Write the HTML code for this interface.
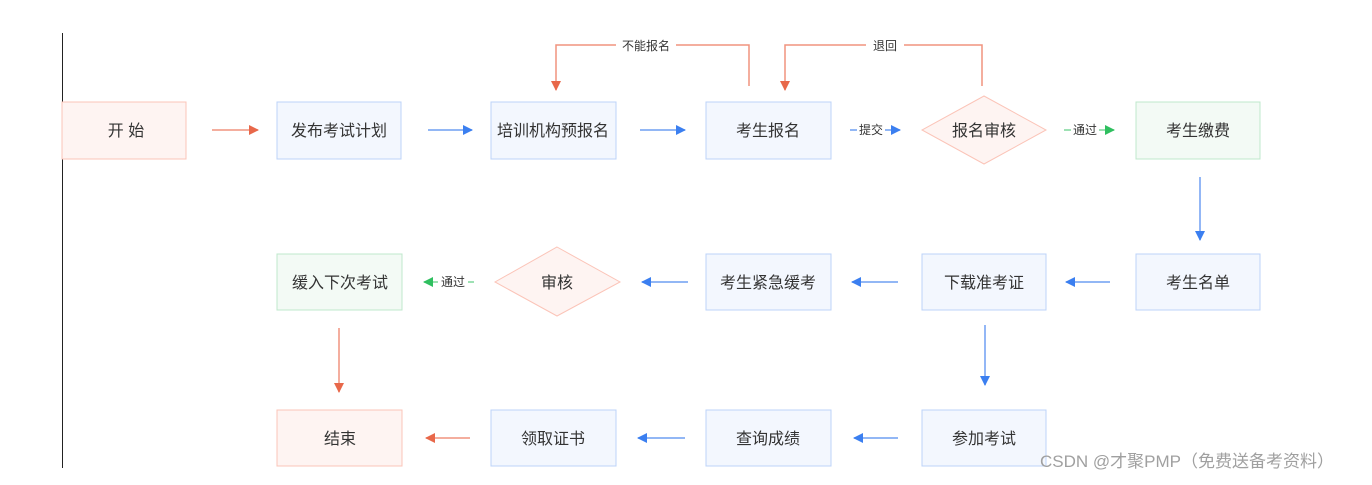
<!DOCTYPE html>
<html><head><meta charset="utf-8"><style>
body{margin:0;background:#fff;}
svg text{font-family:"Liberation Sans","Noto Sans CJK SC",sans-serif;fill:#333;}
</style></head><body>
<svg width="1372" height="480" viewBox="0 0 1372 480" xmlns="http://www.w3.org/2000/svg">
<defs>
<marker id="r" markerWidth="10" markerHeight="10" refX="9" refY="5" orient="auto" markerUnits="userSpaceOnUse"><path d="M0,0 L10,5 L0,10z" fill="#e8684a"/></marker>
<marker id="b" markerWidth="10" markerHeight="10" refX="9" refY="5" orient="auto" markerUnits="userSpaceOnUse"><path d="M0,0 L10,5 L0,10z" fill="#3b7ff0"/></marker>
<marker id="g" markerWidth="10" markerHeight="10" refX="9" refY="5" orient="auto" markerUnits="userSpaceOnUse"><path d="M0,0 L10,5 L0,10z" fill="#2fbf5f"/></marker>
</defs>
<line x1="62.5" y1="33" x2="62.5" y2="468" stroke="#222" stroke-width="1"/>
<g font-size="16" text-anchor="middle">
<!-- row 1 -->
<rect x="62" y="102" width="124" height="57" fill="#fef4f2" stroke="#fbc4b8"/><text x="126" y="136">开 始</text>
<rect x="277" y="102" width="124" height="57" fill="#f3f7fe" stroke="#bcd3f8"/><text x="339" y="136">发布考试计划</text>
<rect x="491" y="102" width="125" height="57" fill="#f3f7fe" stroke="#bcd3f8"/><text x="553" y="136">培训机构预报名</text>
<rect x="706" y="102" width="125" height="57" fill="#f3f7fe" stroke="#bcd3f8"/><text x="768" y="136">考生报名</text>
<polygon points="984,96 1046,130 984,164 922,130" fill="#fef4f2" stroke="#fbc4b8"/><text x="984" y="136">报名审核</text>
<rect x="1136" y="102" width="124" height="57" fill="#f3faf5" stroke="#bfe8cc"/><text x="1198" y="136">考生缴费</text>
<!-- row 2 -->
<rect x="277" y="254" width="125" height="56" fill="#f3faf5" stroke="#bfe8cc"/><text x="340" y="288">缓入下次考试</text>
<polygon points="557,247 620,282 557,316 495,282" fill="#fef4f2" stroke="#fbc4b8"/><text x="557" y="288">审核</text>
<rect x="706" y="254" width="125" height="56" fill="#f3f7fe" stroke="#bcd3f8"/><text x="768" y="288">考生紧急缓考</text>
<rect x="922" y="254" width="124" height="56" fill="#f3f7fe" stroke="#bcd3f8"/><text x="984" y="288">下载准考证</text>
<rect x="1136" y="254" width="124" height="56" fill="#f3f7fe" stroke="#bcd3f8"/><text x="1198" y="288">考生名单</text>
<!-- row 3 -->
<rect x="277" y="410" width="125" height="56" fill="#fef4f2" stroke="#fbc4b8"/><text x="340" y="444">结束</text>
<rect x="491" y="410" width="125" height="56" fill="#f3f7fe" stroke="#bcd3f8"/><text x="553" y="444">领取证书</text>
<rect x="706" y="410" width="125" height="56" fill="#f3f7fe" stroke="#bcd3f8"/><text x="768" y="444">查询成绩</text>
<rect x="922" y="410" width="124" height="56" fill="#f3f7fe" stroke="#bcd3f8"/><text x="984" y="444">参加考试</text>
</g>
<g stroke-width="1.5" fill="none">
<line x1="212" y1="130" x2="258" y2="130" stroke="#f0937f" marker-end="url(#r)"/>
<line x1="428" y1="130" x2="472" y2="130" stroke="#6f9ff2" marker-end="url(#b)"/>
<line x1="640" y1="130" x2="685" y2="130" stroke="#6f9ff2" marker-end="url(#b)"/>
<line x1="850" y1="130" x2="900" y2="130" stroke="#6f9ff2" marker-end="url(#b)"/>
<line x1="1064" y1="130" x2="1114" y2="130" stroke="#7fd79b" marker-end="url(#g)"/>
<line x1="1200" y1="177" x2="1200" y2="240" stroke="#6f9ff2" marker-end="url(#b)"/>
<line x1="1110" y1="282" x2="1066" y2="282" stroke="#6f9ff2" marker-end="url(#b)"/>
<line x1="898" y1="282" x2="852" y2="282" stroke="#6f9ff2" marker-end="url(#b)"/>
<line x1="688" y1="282" x2="642" y2="282" stroke="#6f9ff2" marker-end="url(#b)"/>
<line x1="474" y1="282" x2="424" y2="282" stroke="#7fd79b" marker-end="url(#g)"/>
<line x1="985" y1="325" x2="985" y2="385" stroke="#6f9ff2" marker-end="url(#b)"/>
<line x1="339" y1="328" x2="339" y2="392" stroke="#f0937f" marker-end="url(#r)"/>
<line x1="898" y1="438" x2="854" y2="438" stroke="#6f9ff2" marker-end="url(#b)"/>
<line x1="685" y1="438" x2="638" y2="438" stroke="#6f9ff2" marker-end="url(#b)"/>
<line x1="470" y1="438" x2="426" y2="438" stroke="#f0937f" marker-end="url(#r)"/>
<polyline points="749,86 749,45 556,45 556,90" stroke="#f0937f" marker-end="url(#r)"/>
<polyline points="982,86 982,45 785,45 785,90" stroke="#f0937f" marker-end="url(#r)"/>
</g>
<g font-size="12" text-anchor="middle">
<rect x="616" y="37" width="60" height="16" fill="#fff"/><text x="646" y="50">不能报名</text>
<rect x="866" y="37" width="38" height="16" fill="#fff"/><text x="885" y="50">退回</text>
<rect x="857" y="122" width="28" height="16" fill="#fff"/><text x="871" y="134">提交</text>
<rect x="1071" y="122" width="28" height="16" fill="#fff"/><text x="1085" y="134">通过</text>
<rect x="438" y="274" width="30" height="16" fill="#fff"/><text x="453" y="286">通过</text>
</g>
<text x="1040" y="467" font-size="17" fill="#9a9a9a" style="fill:#a0a0a0">CSDN @才聚PMP（免费送备考资料）</text>
</svg>
</body></html>
